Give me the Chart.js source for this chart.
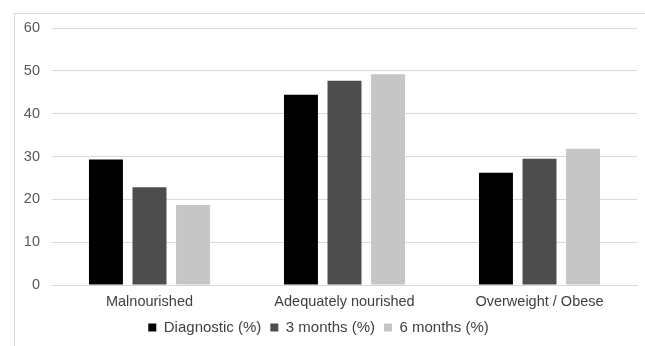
<!DOCTYPE html>
<html>
<head>
<meta charset="utf-8">
<script src="https://cdn.jsdelivr.net/npm/chart.js@4.4.0/dist/chart.umd.min.js"></script>
<style>
  html, body { margin: 0; padding: 0; background: #fff; }
  #wrap { position: relative; width: 645px; height: 346px; overflow: hidden; }
  #frame { position: absolute; left: 14px; top: 13px; width: 700px; height: 400px;
           border-left: 1px solid #d9d9d9; border-top: 1px solid #d9d9d9; }
  canvas { position: absolute; left: 0; top: 0; }
</style>
</head>
<body>
<div id="wrap">
  <div id="frame"></div>
  <canvas id="chart" width="645" height="346"></canvas>
</div>
<script>
// Categorías y series
const categories = ['Malnourished', 'Adequately nourished', 'Overweight / Obese'];
const seriesNames = ['Diagnostic (%)', '3 months (%)', '6 months (%)'];
const diagnostic = [29.3, 44.4, 26.2];
const threeMonths = [22.8, 47.7, 29.5];
const sixMonths = [18.7, 49.2, 31.8];
const yTicks = [0, 10, 20, 30, 40, 50, 60];

const colors = ['#000000', '#4d4d4d', '#c6c6c6'];
const font = 'Liberation Sans, Arial, sans-serif';

const ctx = document.getElementById('chart');

new Chart(ctx, {
    type: 'bar',
    data: {
        labels: categories,
        datasets: [diagnostic, threeMonths, sixMonths].map((vals, i) => ({
            label: seriesNames[i],
            data: vals,
            backgroundColor: colors[i],
            borderWidth: 0,
            barPercentage: 0.78,
            categoryPercentage: 0.67
        }))
    },
    options: {
        responsive: false,
        animation: false,
        layout: { padding: { left: 0, right: 8, top: 28, bottom: 1 } },
        plugins: {
            legend: {
                position: 'bottom',
                labels: {
                    boxWidth: 8,
                    boxHeight: 8,
                    padding: 9,
                    color: '#404040',
                    font: { family: font, size: 15 }
                }
            },
            tooltip: { enabled: false }
        },
        scales: {
            x: {
                grid: { display: false, drawTicks: false },
                border: { color: '#d9d9d9' },
                ticks: {
                    color: '#404040',
                    padding: 8,
                    maxRotation: 0,
                    font: { family: font, size: 14.5 }
                },
                afterFit: scale => { scale.height = 26; }
            },
            y: {
                min: 0,
                max: 60,
                afterBuildTicks: scale => { scale.ticks = yTicks.map(v => ({ value: v })); },
                grid: { color: '#d9d9d9', drawTicks: false },
                border: { display: false },
                ticks: {
                    color: '#595959',
                    padding: 12,
                    font: { family: font, size: 14.5 }
                },
                afterFit: scale => { scale.width = 52; }
            }
        }
    }
});
</script>
</body>
</html>
